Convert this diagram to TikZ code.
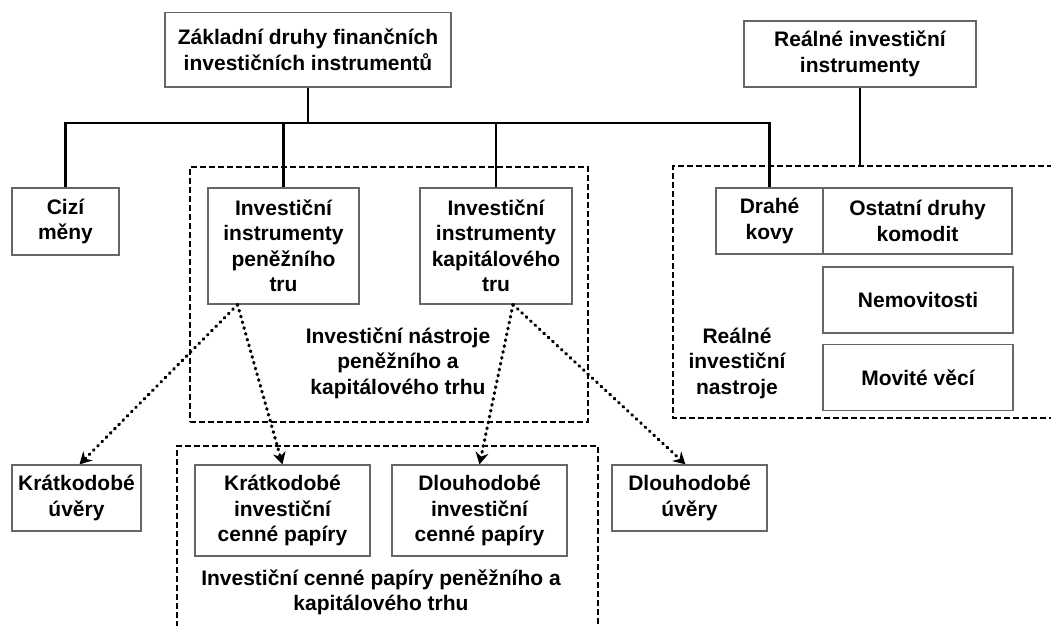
\documentclass[tikz,border=0pt]{standalone}
\usepackage{fontspec}
\setmainfont{Liberation Sans}
\usetikzlibrary{arrows.meta}
\tikzset{
  box/.style={draw=black!60, line width=1.2pt, fill=white, align=center, inner sep=0pt,
    font=\fontsize{21}{25.5}\selectfont\bfseries},
  lbl/.style={align=center, inner sep=0pt, font=\fontsize{21}{25.5}\selectfont\bfseries},
  conn/.style={draw=black, line width=2.2pt},
  frame/.style={draw=black, line width=2pt, dash pattern=on 6pt off 3pt},
  dotarrow/.style={draw=black, line width=3.2pt, line cap=round, dash pattern=on 0.8pt off 5.2pt,
    -{Stealth[length=12pt,width=13pt,inset=4pt]}}
}
\begin{document}
\begin{tikzpicture}[x=1pt,y=-1pt]
\useasboundingbox (0,0) rectangle (1051,625);
\fill[white] (0,0) rectangle (1051,625);

% dashed group frames
\node[frame, minimum width=398pt, minimum height=255pt, inner sep=0pt] (midframe) at (389,294.5) {};
\coordinate (rfTL) at (673,166);
\coordinate (rfBL) at (673,418);
\draw[frame] (1053,166) -- (rfTL) -- (rfBL) -- (1053,418);
\coordinate (bfTL) at (177,446);
\coordinate (bfTR) at (598,446);
\draw[frame] (177,627) -- (bfTL) -- (bfTR) -- (598,627);

% boxes
\node[box, minimum width=286pt, minimum height=74.5pt] (top) at (308,49.75) {Základní druhy finančních\\investičních instrumentů};
\node[box, minimum width=232pt, minimum height=66pt] (real) at (860,54) {Reálné investiční\\instrumenty};
\node[box, minimum width=107pt, minimum height=67pt] (cizi) at (65.5,221.5) {Cizí\\měny};
\node[box, minimum width=151pt, minimum height=116pt] (invp) at (283.5,246) {Investiční\\instrumenty\\peněžního\\tru};
\node[box, minimum width=152pt, minimum height=116pt] (invk) at (496,246) {Investiční\\instrumenty\\kapitálového\\tru};
\node[box, minimum width=107pt, minimum height=66pt] (drahe) at (769.5,221) {Drahé\\kovy};
\node[box, minimum width=189pt, minimum height=66pt] (ostat) at (917.5,221) {Ostatní druhy\\komodit};
\node[box, minimum width=190pt, minimum height=66pt] (nemov) at (918,300) {Nemovitosti};
\node[box, minimum width=190pt, minimum height=66.5pt] (movit) at (918,377.5) {Movité věcí};
\node[box, minimum width=129pt, minimum height=66pt] (ku) at (76.5,498) {Krátkodobé\\úvěry};
\node[box, minimum width=175pt, minimum height=91pt] (kicp) at (282.5,510.5) {Krátkodobé\\investiční\\cenné papíry};
\node[box, minimum width=175pt, minimum height=91pt] (dicp) at (479.5,510.5) {Dlouhodobé\\investiční\\cenné papíry};
\node[box, minimum width=155pt, minimum height=66pt] (du) at (689.5,498) {Dlouhodobé\\úvěry};

% labels
\node[lbl] (lblmid) at (398,363) {Investiční nástroje\\peněžního a\\kapitálového trhu};
\node[lbl] (lblreal) at (737,363) {Reálné\\investiční\\nastroje};
\node[lbl] (lblbot) at (381,592.5) {Investiční cenné papíry peněžního a\\kapitálového trhu};

% tree connectors
\coordinate (bus) at (0,123);
\draw[conn] (top.south) -- (top.south |- bus);
\draw[conn] (cizi.north) -- (cizi.north |- bus) -- (drahe.north |- bus) -- (drahe.north);
\draw[conn] (invp.north) -- (invp.north |- bus);
\draw[conn] (invk.north) -- (invk.north |- bus);
\draw[conn] (real.south) -- (real.south |- rfTL);

% dotted arrows
\draw[dotarrow] ([xshift=-46pt]invp.south) -- ([xshift=3pt]ku.north);
\draw[dotarrow] ([xshift=-46pt]invp.south) -- (kicp.north);
\draw[dotarrow] ([xshift=17pt]invk.south) -- (dicp.north);
\draw[dotarrow] ([xshift=17pt]invk.south) -- ([xshift=-4pt]du.north);
\end{tikzpicture}
\end{document}
